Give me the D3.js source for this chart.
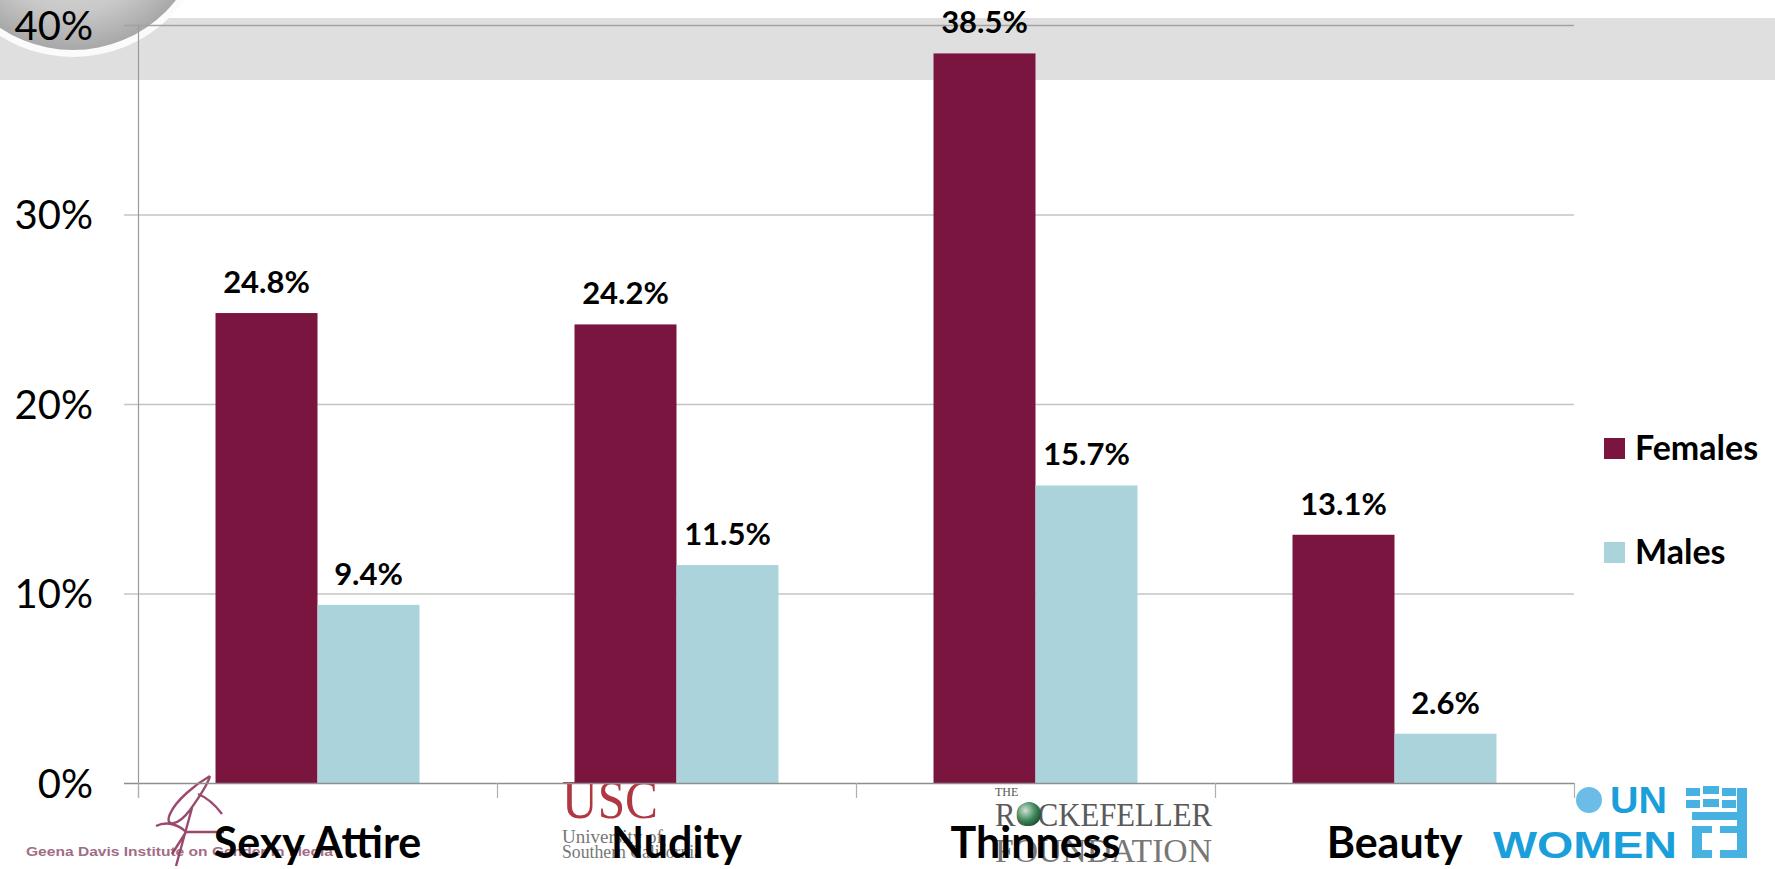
<!DOCTYPE html>
<html>
<head>
<meta charset="utf-8">
<script src="https://cdn.jsdelivr.net/npm/d3@7"></script>
<style>
  html, body { margin: 0; padding: 0; background: #fff; }
  svg { display: block; font-family: Lato, 'Open Sans', sans-serif; }
</style>
</head>
<body>
<div id="chart"></div>
<script>
'use strict';

var categories = [ 'Sexy Attire', 'Nudity', 'Thinness', 'Beauty' ];
var seriesNames = [ 'Females', 'Males' ];
var females = [ 24.8, 24.2, 38.5, 13.1 ];
var males = [ 9.4, 11.5, 15.7, 2.6 ];
var yTicks = [ 0, 10, 20, 30, 40 ];
var seriesColors = [ '#7a1540', '#abd3db' ];

var width = 1775, height = 869;
var plot = { left: 138, right: 1574, top: 25, bottom: 783 };

var svg = d3.select( '#chart' ).append( 'svg' )
    .attr( 'width', width )
    .attr( 'height', height );

var x = d3.scaleBand().domain( categories ).range([ plot.left, plot.right ]).paddingInner( 0 ).paddingOuter( 0 );
var xs = d3.scaleBand().domain( seriesNames ).range([ 0, x.bandwidth() ]).paddingInner( 0 ).paddingOuter( 0.76 );
var y = d3.scaleLinear().domain([ 0, 40 ]).range([ plot.bottom, plot.top ]);
var color = d3.scaleOrdinal().domain( seriesNames ).range( seriesColors );

// slide decoration behind the chart: grey band and the round badge
var badge = { cx: 73, cy: -81, r: 131 };
var defs = svg.append( 'defs' );
var grad = defs.append( 'radialGradient' ).attr( 'id', 'badge' )
    .attr( 'gradientUnits', 'userSpaceOnUse' )
    .attr( 'cx', badge.cx ).attr( 'cy', badge.cy ).attr( 'r', badge.r );
grad.append( 'stop' ).attr( 'offset', '0%' ).attr( 'stop-color', '#e6e6e6' );
grad.append( 'stop' ).attr( 'offset', '70%' ).attr( 'stop-color', '#c9c9c9' );
grad.append( 'stop' ).attr( 'offset', '100%' ).attr( 'stop-color', '#a8a8a8' );

var sphere = defs.append( 'radialGradient' ).attr( 'id', 'sphere' ).attr( 'cx', '35%' ).attr( 'cy', '35%' ).attr( 'r', '70%' );
sphere.append( 'stop' ).attr( 'offset', '0%' ).attr( 'stop-color', '#cfe3d6' );
sphere.append( 'stop' ).attr( 'offset', '60%' ).attr( 'stop-color', '#3f8a5c' );
sphere.append( 'stop' ).attr( 'offset', '100%' ).attr( 'stop-color', '#1f4f33' );

svg.append( 'rect' ).attr( 'x', 0 ).attr( 'y', 18 ).attr( 'width', width ).attr( 'height', 62 ).attr( 'fill', '#dfdfdf' );
svg.append( 'circle' )
    .attr( 'cx', badge.cx ).attr( 'cy', badge.cy ).attr( 'r', badge.r + 7 )
    .attr( 'fill', '#fbfbfb' );
svg.append( 'circle' )
    .attr( 'cx', badge.cx ).attr( 'cy', badge.cy ).attr( 'r', badge.r )
    .attr( 'fill', 'url(#badge)' );

// gridlines
svg.append( 'g' ).attr( 'class', 'grid' )
    .selectAll( 'line' )
    .data( yTicks.filter( function( d ) { return d > 0; } ) )
    .enter().append( 'line' )
        .attr( 'x1', plot.left - 14 ).attr( 'x2', plot.right )
        .attr( 'y1', function( d ) { return y( d ) + 0.5; } )
        .attr( 'y2', function( d ) { return y( d ) + 0.5; } )
        .attr( 'stroke', function( d ) { return d === 40 ? '#a2a2a2' : '#c4c4c4'; } )
        .attr( 'stroke-width', 1.3 );

// y axis labels
var yAxis = d3.axisLeft( y ).tickValues( yTicks ).tickFormat( function( d ) { return d + '%'; } ).tickSize( 0 ).tickPadding( 45 );
var gy = svg.append( 'g' ).attr( 'transform', 'translate(' + plot.left + ',0)' ).call( yAxis );
gy.select( '.domain' ).remove();
gy.selectAll( 'text' )
    .attr( 'font-family', 'Lato, sans-serif' )
    .attr( 'font-size', 40 )
    .attr( 'fill', '#000' )
    .attr( 'dy', '0.36em' );

// logos under the categories (drawn first so the labels sit on top)
var logos = svg.append( 'g' ).attr( 'class', 'logos' );

logos.append( 'path' )
    .attr( 'd', 'M210 776 C196 784 176 800 170 814 C164 828 178 826 190 810 C200 796 208 784 210 776 M192 808 L176 866 M156 826 C168 820 180 826 186 832 L224 832 M186 832 L172 854 M198 794 C208 798 216 806 222 814' )
    .attr( 'fill', 'none' ).attr( 'stroke', '#8a2a56' ).attr( 'stroke-width', 2.4 ).attr( 'opacity', 0.85 );
logos.append( 'text' )
    .attr( 'x', 26 ).attr( 'y', 856 )
    .attr( 'font-family', 'Liberation Sans, sans-serif' ).attr( 'font-weight', 'bold' ).attr( 'font-size', 12 )
    .attr( 'textLength', 307 ).attr( 'lengthAdjust', 'spacingAndGlyphs' )
    .attr( 'fill', '#8c4868' ).attr( 'opacity', 0.8 )
    .text( 'Geena Davis Institute on Gender in Media' );

logos.append( 'text' )
    .attr( 'x', 562 ).attr( 'y', 818 )
    .attr( 'font-family', 'Liberation Serif, serif' ).attr( 'font-size', 54 )
    .attr( 'textLength', 96 ).attr( 'lengthAdjust', 'spacingAndGlyphs' )
    .attr( 'fill', '#a8232f' ).attr( 'opacity', 0.9 )
    .text( 'USC' );
logos.append( 'text' )
    .attr( 'x', 562 ).attr( 'y', 843 )
    .attr( 'font-family', 'Liberation Serif, serif' ).attr( 'font-size', 19 )
    .attr( 'fill', '#777' )
    .text( 'University of' );
logos.append( 'text' )
    .attr( 'x', 562 ).attr( 'y', 858 )
    .attr( 'font-family', 'Liberation Serif, serif' ).attr( 'font-size', 19 )
    .attr( 'textLength', 140 ).attr( 'lengthAdjust', 'spacingAndGlyphs' )
    .attr( 'fill', '#777' )
    .text( 'Southern California' );

logos.append( 'text' )
    .attr( 'x', 995 ).attr( 'y', 796 )
    .attr( 'font-family', 'Liberation Serif, serif' ).attr( 'font-size', 12 )
    .attr( 'fill', '#555' )
    .text( 'THE' );
logos.append( 'text' )
    .attr( 'x', 995 ).attr( 'y', 826 )
    .attr( 'font-family', 'Liberation Serif, serif' ).attr( 'font-size', 33 )
    .attr( 'textLength', 217 ).attr( 'lengthAdjust', 'spacingAndGlyphs' )
    .attr( 'fill', '#5a5a5a' )
    .text( 'ROCKEFELLER' );
logos.append( 'circle' ).attr( 'cx', 1029 ).attr( 'cy', 814 ).attr( 'r', 12 ).attr( 'fill', 'url(#sphere)' );
logos.append( 'text' )
    .attr( 'x', 995 ).attr( 'y', 862 )
    .attr( 'font-family', 'Liberation Serif, serif' ).attr( 'font-size', 33 )
    .attr( 'textLength', 217 ).attr( 'lengthAdjust', 'spacingAndGlyphs' )
    .attr( 'fill', '#777' )
    .text( 'FOUNDATION' );

var unBlue = '#1a9fdb';
logos.append( 'circle' ).attr( 'cx', 1589 ).attr( 'cy', 800 ).attr( 'r', 13 ).attr( 'fill', '#6bbde8' );
logos.append( 'text' )
    .attr( 'x', 1610 ).attr( 'y', 813 )
    .attr( 'font-family', 'Liberation Sans, sans-serif' ).attr( 'font-weight', 'bold' ).attr( 'font-size', 36 )
    .attr( 'textLength', 57 ).attr( 'lengthAdjust', 'spacingAndGlyphs' )
    .attr( 'fill', unBlue )
    .text( 'UN' );
logos.append( 'text' )
    .attr( 'x', 1493 ).attr( 'y', 858 )
    .attr( 'font-family', 'Liberation Sans, sans-serif' ).attr( 'font-weight', 'bold' ).attr( 'font-size', 36 )
    .attr( 'textLength', 184 ).attr( 'lengthAdjust', 'spacingAndGlyphs' )
    .attr( 'fill', unBlue )
    .text( 'WOMEN' );
var emblem = logos.append( 'g' ).attr( 'fill', unBlue ).attr( 'opacity', 0.8 );
[ [ 1686, 788, 14, 8 ], [ 1703, 786, 16, 8 ], [ 1722, 788, 14, 8 ], [ 1686, 800, 14, 8 ], [ 1703, 799, 16, 8 ], [ 1722, 800, 14, 8 ],
  [ 1737, 788, 10, 70 ], [ 1692, 812, 45, 8 ], [ 1692, 826, 10, 32 ], [ 1692, 826, 20, 7 ], [ 1692, 850, 20, 8 ], [ 1720, 826, 17, 7 ], [ 1720, 850, 17, 8 ] ]
    .forEach( function( r ) {
        emblem.append( 'rect' ).attr( 'x', r[ 0 ] ).attr( 'y', r[ 1 ] ).attr( 'width', r[ 2 ] ).attr( 'height', r[ 3 ] );
    });

// bars
var rows = categories.map( function( c, i ) {
    return { category: c, values: [ { key: 'Females', value: females[ i ] }, { key: 'Males', value: males[ i ] } ] };
});

var groups = svg.append( 'g' ).attr( 'class', 'bars' )
    .selectAll( 'g' )
    .data( rows )
    .enter().append( 'g' )
        .attr( 'transform', function( d ) { return 'translate(' + x( d.category ) + ',0)'; } );

groups.selectAll( 'rect' )
    .data( function( d ) { return d.values; } )
    .enter().append( 'rect' )
        .attr( 'x', function( d ) { return xs( d.key ); } )
        .attr( 'y', function( d ) { return y( d.value ); } )
        .attr( 'width', xs.bandwidth() )
        .attr( 'height', function( d ) { return y( 0 ) - y( d.value ); } )
        .attr( 'fill', function( d ) { return color( d.key ); } );

groups.selectAll( 'text' )
    .data( function( d ) { return d.values; } )
    .enter().append( 'text' )
        .attr( 'x', function( d ) { return xs( d.key ) + xs.bandwidth() / 2; } )
        .attr( 'y', function( d ) { return y( d.value ) - 20; } )
        .attr( 'text-anchor', 'middle' )
        .attr( 'font-weight', 'bold' )
        .attr( 'font-size', 31 )
        .attr( 'fill', '#000' )
        .text( function( d ) { return d.value.toFixed( 1 ) + '%'; } );

// axis lines and category ticks
svg.append( 'line' )
    .attr( 'x1', plot.left + 0.5 ).attr( 'x2', plot.left + 0.5 )
    .attr( 'y1', plot.top ).attr( 'y2', plot.bottom + 15 )
    .attr( 'stroke', '#9a9a9a' ).attr( 'stroke-width', 1.2 );
svg.append( 'line' )
    .attr( 'x1', plot.left - 14 ).attr( 'x2', plot.right )
    .attr( 'y1', plot.bottom + 0.5 ).attr( 'y2', plot.bottom + 0.5 )
    .attr( 'stroke', '#8e8e8e' ).attr( 'stroke-width', 1.4 );
svg.append( 'g' ).selectAll( 'line' )
    .data( categories.map( function( c ) { return x( c ); } ).concat([ plot.right ]) )
    .enter().append( 'line' )
        .attr( 'x1', function( d ) { return d + 0.5; } )
        .attr( 'x2', function( d ) { return d + 0.5; } )
        .attr( 'y1', plot.bottom ).attr( 'y2', plot.bottom + 15 )
        .attr( 'stroke', '#b0b0b0' ).attr( 'stroke-width', 1.2 );

// category labels
svg.append( 'g' ).selectAll( 'text' )
    .data( categories )
    .enter().append( 'text' )
        .attr( 'x', function( d ) { return x( d ) + x.bandwidth() / 2; } )
        .attr( 'y', 858 )
        .attr( 'text-anchor', 'middle' )
        .attr( 'font-weight', 'bold' )
        .attr( 'font-size', 43 )
        .attr( 'fill', '#000' )
        .text( function( d ) { return d; } );

// legend
var legend = svg.append( 'g' ).attr( 'class', 'legend' )
    .selectAll( 'g' )
    .data( seriesNames )
    .enter().append( 'g' )
        .attr( 'transform', function( d, i ) { return 'translate(1604,' + ( 438 + i * 104 ) + ')'; } );
legend.append( 'rect' )
    .attr( 'width', 21 ).attr( 'height', 21 )
    .attr( 'fill', function( d ) { return color( d ); } );
legend.append( 'text' )
    .attr( 'x', 31 ).attr( 'y', 22 )
    .attr( 'font-weight', 'bold' )
    .attr( 'font-size', 34 )
    .attr( 'fill', '#000' )
    .text( function( d ) { return d; } );
</script>
</body>
</html>
